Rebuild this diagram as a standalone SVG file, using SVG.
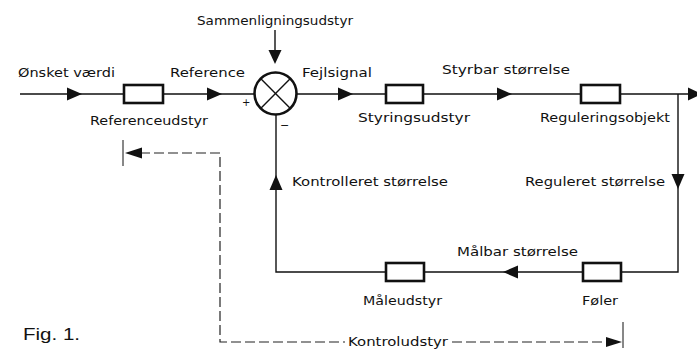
<svg xmlns="http://www.w3.org/2000/svg" width="697" height="349" viewBox="0 0 697 349">
<style>
.t{font-family:"DejaVu Sans","Liberation Sans",sans-serif;font-size:13px;fill:#111}
.ln{stroke:#111;stroke-width:1.4;fill:none}
.dash{stroke:#222;stroke-width:1.2;fill:none;stroke-dasharray:10 4}
.box{stroke:#111;stroke-width:2.6;fill:#fff}
.ah{fill:#111}
</style>
<rect width="697" height="349" fill="#fff"/>
<g id="connectors">
<path class="ln" d="M20 94H124 M163 94H254 M297 94H386 M423 94H581 M620 94H697"/>
<path class="ln" d="M678 94V272H622 M583 272H424 M386 272H276V115"/>
<path class="ln" d="M275 30V52"/>
<polygon class="ah" points="67,87.5 82,94 67,100.5"/>
<polygon class="ah" points="207,87.5 222,94 207,100.5"/>
<polygon class="ah" points="338,87.5 353,94 338,100.5"/>
<polygon class="ah" points="497,87.5 512,94 497,100.5"/>
<polygon class="ah" points="688,87.5 702,94 688,100.5"/>
<polygon class="ah" points="671.5,174 684.5,174 678,189"/>
<polygon class="ah" points="518,265.5 518,278.5 503,272"/>
<polygon class="ah" points="269.5,190 282.5,190 276,175"/>
<polygon class="ah" points="268.5,50 281.5,50 275,64"/>
<path class="dash" d="M140 153H220V342H345 M452 342H612"/>
<path class="ln" style="stroke-width:1" d="M123 140V166 M623 322V348"/>
<polygon class="ah" points="142,147.5 142,158.5 125,153"/>
<polygon class="ah" points="606,337 606,347 622,342"/>
</g>
<g id="comparator">
<circle cx="275.5" cy="93.5" r="21" fill="#fff" stroke="#111" stroke-width="2.6"/>
<path class="ln" d="M260.6 78.6L290.4 108.4 M290.4 78.6L260.6 108.4"/>
<text class="t" x="197" y="25" textLength="156" lengthAdjust="spacingAndGlyphs">Sammenligningsudstyr</text>
<text class="t" x="242" y="106" style="font-size:10px">+</text>
<text class="t" x="280" y="129" style="font-size:11px">−</text>
</g>
<g id="referenceudstyr">
<rect class="box" x="124" y="85" width="39" height="18"/>
<text class="t" x="90" y="125" textLength="118" lengthAdjust="spacingAndGlyphs">Referenceudstyr</text>
</g>
<g id="styringsudstyr">
<rect class="box" x="386" y="85" width="37" height="18"/>
<text class="t" x="358" y="122" textLength="112" lengthAdjust="spacingAndGlyphs">Styringsudstyr</text>
</g>
<g id="reguleringsobjekt">
<rect class="box" x="581" y="85" width="39" height="18"/>
<text class="t" x="540" y="122" textLength="130" lengthAdjust="spacingAndGlyphs">Reguleringsobjekt</text>
</g>
<g id="foler">
<rect class="box" x="583" y="263" width="38" height="18"/>
<text class="t" x="582" y="305" textLength="36" lengthAdjust="spacingAndGlyphs">Føler</text>
</g>
<g id="maleudstyr">
<rect class="box" x="386" y="263" width="38" height="18"/>
<text class="t" x="363" y="305" textLength="79" lengthAdjust="spacingAndGlyphs">Måleudstyr</text>
</g>
<g id="labels">
<text class="t" x="18" y="77" textLength="97" lengthAdjust="spacingAndGlyphs">Ønsket værdi</text>
<text class="t" x="170" y="77" textLength="75" lengthAdjust="spacingAndGlyphs">Reference</text>
<text class="t" x="302" y="77" textLength="70" lengthAdjust="spacingAndGlyphs">Fejlsignal</text>
<text class="t" x="442" y="74" textLength="128" lengthAdjust="spacingAndGlyphs">Styrbar størrelse</text>
<text class="t" x="525" y="186" textLength="140" lengthAdjust="spacingAndGlyphs">Reguleret størrelse</text>
<text class="t" x="292" y="186" textLength="156" lengthAdjust="spacingAndGlyphs">Kontrolleret størrelse</text>
<text class="t" x="457" y="256" textLength="121" lengthAdjust="spacingAndGlyphs">Målbar størrelse</text>
<text class="t" x="348" y="346" textLength="100" lengthAdjust="spacingAndGlyphs">Kontroludstyr</text>
<text class="t" x="23" y="340" style="font-size:16px;font-family:'Liberation Sans',Arial,sans-serif" textLength="57" lengthAdjust="spacingAndGlyphs">Fig. 1.</text>
</g>
</svg>
